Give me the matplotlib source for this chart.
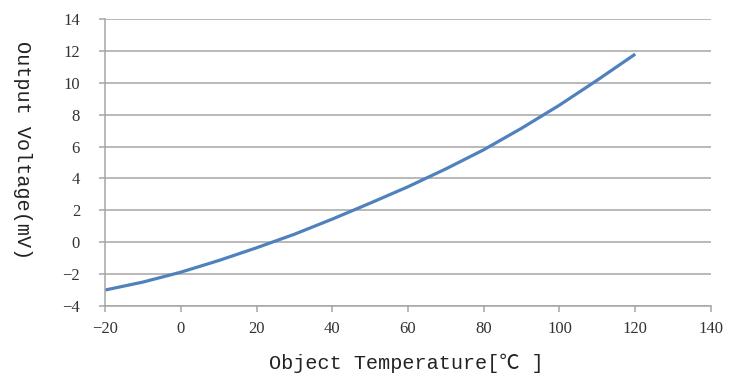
import matplotlib
matplotlib.use("Agg")
import matplotlib.pyplot as plt

# Courbe (température objet -> tension de sortie)
temperature = [-20, -10, 0, 10, 20, 30, 40, 50, 60, 70, 80, 90, 100, 110, 120]
tension_mv = [-3.0, -2.5, -1.88, -1.15, -0.35, 0.5, 1.45, 2.45, 3.48, 4.6, 5.8, 7.15, 8.6, 10.17, 11.8]

x_ticks = [-20, 0, 20, 40, 60, 80, 100, 120, 140]
y_ticks = [-4, -2, 0, 2, 4, 6, 8, 10, 12, 14]

GRIS = "#a6a6a6"
BLEU = "#4f81bd"
POLICE_LABEL = ["Liberation Mono", "Noto Sans CJK SC", "DejaVu Sans"]

fig = plt.figure(figsize=(7.37, 3.85), dpi=100)
ax = fig.add_axes([0.1425, 0.2052, 0.8222, 0.7454])

ax.plot(temperature, tension_mv, color=BLEU, linewidth=2.3,
        solid_capstyle="butt", solid_joinstyle="round")

ax.set_xlim(-20, 140)
ax.set_ylim(-4, 14)
ax.set_xticks(x_ticks)
ax.set_yticks(y_ticks)
ax.set_xticklabels([str(v).replace("-", "\u2212") for v in x_ticks],
                   family="Liberation Serif", fontsize=12, color="#333333")
ax.set_yticklabels([str(v).replace("-", "\u2212") for v in y_ticks],
                   family="Liberation Serif", fontsize=12, color="#333333")

ax.grid(axis="y", color=GRIS, linewidth=1.1)
ax.set_axisbelow(True)
for cote in ["top", "right"]:
    ax.spines[cote].set_visible(False)
for cote in ["left", "bottom"]:
    ax.spines[cote].set_color(GRIS)
    ax.spines[cote].set_linewidth(1.1)
ax.tick_params(axis="both", direction="out", length=4, width=1.1, color=GRIS)
ax.tick_params(axis="y", pad=14)
ax.tick_params(axis="x", pad=7)

fig.text(0.551, 1 - 363 / 385, "Object Temperature[\u2103 ]", family=POLICE_LABEL,
         fontsize=14.5, ha="center", va="center", color="#222222")
fig.text(22 / 737, 1 - 150 / 385, "Output Voltage(mV)", family=POLICE_LABEL,
         fontsize=14.5, ha="center", va="center", rotation=270, color="#222222")

fig.savefig("out.png", dpi=100)
